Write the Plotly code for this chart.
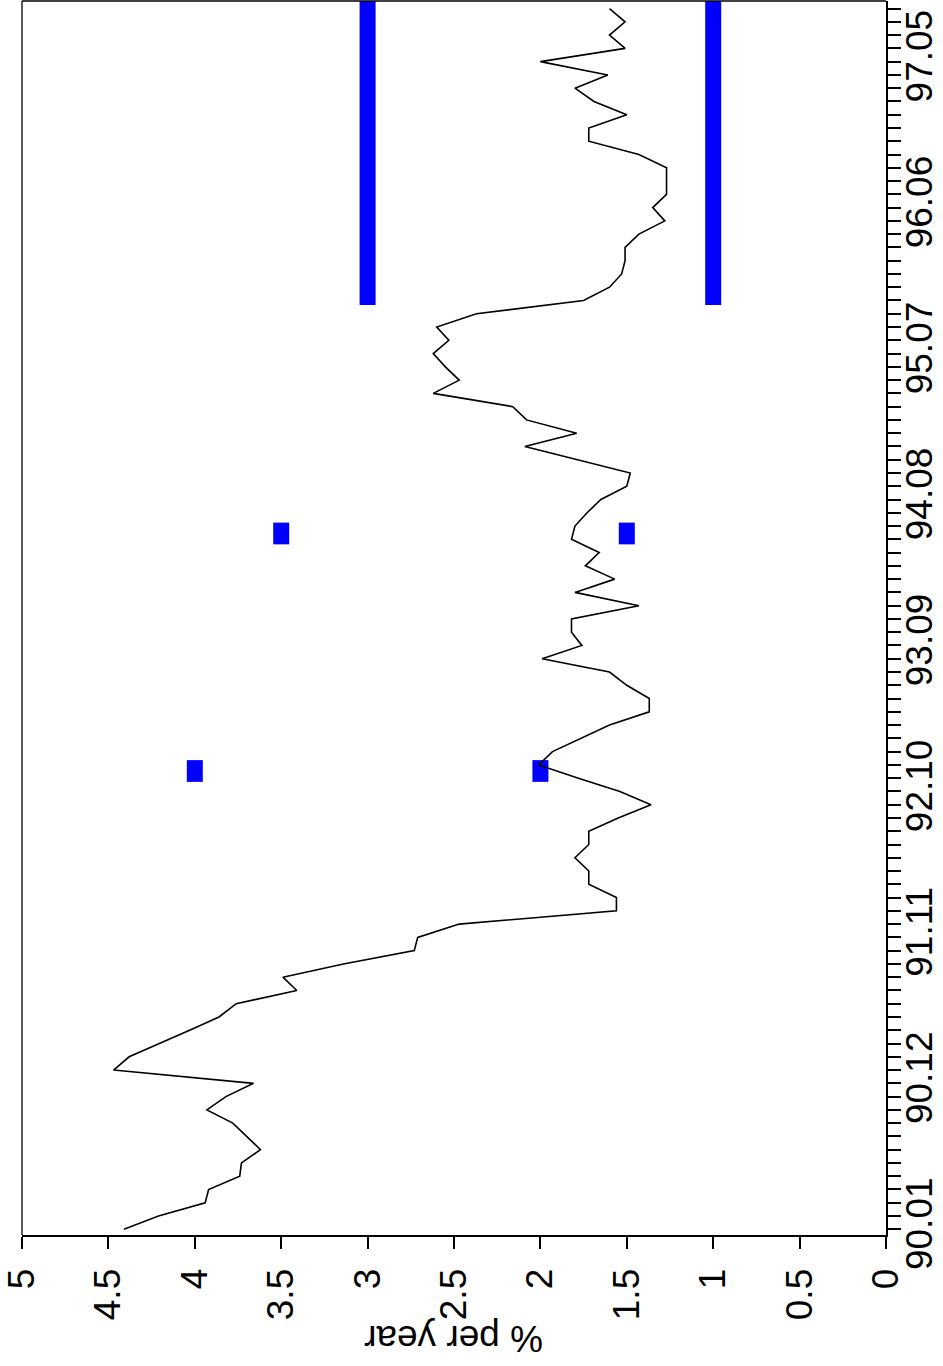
import plotly.graph_objects as go

# ---- data ----
# monthly series, month index 0 = 1990.01
rate = [4.41, 4.21, 3.94, 3.92, 3.74, 3.73, 3.62, 3.70, 3.78, 3.93, 3.82, 3.66,
        4.47, 4.38, 4.20, 4.03, 3.86, 3.76, 3.41, 3.49, 3.14, 2.73, 2.71, 2.47,
        1.56, 1.56, 1.72, 1.72, 1.80, 1.72, 1.72, 1.55, 1.36, 1.54, 1.78, 2.01,
        1.93, 1.76, 1.60, 1.37, 1.37, 1.50, 1.60, 1.99, 1.76, 1.82, 1.82, 1.43,
        1.80, 1.57, 1.74, 1.66, 1.82, 1.80, 1.73, 1.65, 1.50, 1.48, 1.79, 2.09,
        1.79, 2.08, 2.16, 2.62, 2.47, 2.55, 2.62, 2.53, 2.60, 2.37, 1.75, 1.60,
        1.53, 1.51, 1.51, 1.43, 1.28, 1.35, 1.27, 1.27, 1.27, 1.43, 1.72, 1.72,
        1.50, 1.69, 1.80, 1.61, 2.00, 1.51, 1.60, 1.51, 1.60]
months = list(range(len(rate)))

tick_months = [0, 11, 22, 33, 44, 55, 66, 77, 88]
tick_labels = ["90.01", "90.12", "91.11", "92.10", "93.09", "94.08", "95.07", "96.06", "97.05"]

# inflation-control target bands (month index start/end, upper, lower)
target_start = [33.72, 51.62, 69.66]
target_end = [35.36, 53.26, 95.0]
target_upper = [4.0, 3.5, 3.0]
target_lower = [2.0, 1.5, 1.0]

value_ticks = [0, 0.5, 1, 1.5, 2, 2.5, 3, 3.5, 4, 4.5, 5]

FONT = "Liberation Sans, Arial, sans-serif"
BLUE = "#0000FF"

fig = go.Figure()

for s, e, up, lo in zip(target_start, target_end, target_upper, target_lower):
    for v in (up, lo):
        fig.add_trace(go.Scatter(x=[v, v], y=[s, e], mode="lines",
                                 line=dict(color=BLUE, width=16),
                                 hoverinfo="skip", showlegend=False))

fig.add_trace(go.Scatter(x=rate, y=months, mode="lines",
                         line=dict(color="black", width=1.6),
                         showlegend=False))

fig.update_layout(
    width=943, height=1366,
    margin=dict(l=22, r=57, t=1, b=131),
    paper_bgcolor="white", plot_bgcolor="white",
    font=dict(family=FONT, size=37, color="black"),
    xaxis=dict(range=[5, 0], tickvals=value_ticks, tickangle=-90,
               automargin=False, ticklabelstandoff=5,
               showgrid=False, zeroline=False, showline=True,
               linecolor="black", linewidth=2,
               ticks="outside", ticklen=12, tickwidth=1.5, tickcolor="black",
               tickfont=dict(family=FONT, size=37)),
    yaxis=dict(range=[-0.43, 92.57], side="right", automargin=False,
               tickmode="array", tickvals=tick_months, ticktext=tick_labels,
               tickangle=-90, ticklabelstandoff=-13,
               showgrid=False, zeroline=False, showline=True,
               linecolor="black", linewidth=2,
               ticks="outside", ticklen=13, tickwidth=1.5, tickcolor="black",
               minor=dict(tickvals=months, ticks="outside", ticklen=13,
                          tickwidth=1.5, tickcolor="black", showgrid=False),
               tickfont=dict(family=FONT, size=37)),
    shapes=[
        dict(type="line", xref="paper", yref="paper", x0=0, x1=0, y0=0, y1=1,
             line=dict(color="black", width=1.3)),
        dict(type="line", xref="paper", yref="paper", x0=0, x1=1, y0=1, y1=1,
             line=dict(color="black", width=1.3)),
    ],
    annotations=[
        dict(text="% per year", textangle=180, xref="paper", yref="paper",
             x=0.5, y=-0.084, xanchor="center", yanchor="middle",
             showarrow=False, font=dict(family=FONT, size=37, color="black")),
    ],
)

fig.write_html("out.html", config={"displayModeBar": False},
               post_script="document.body.style.margin='0px';document.body.style.overflow='hidden';")
